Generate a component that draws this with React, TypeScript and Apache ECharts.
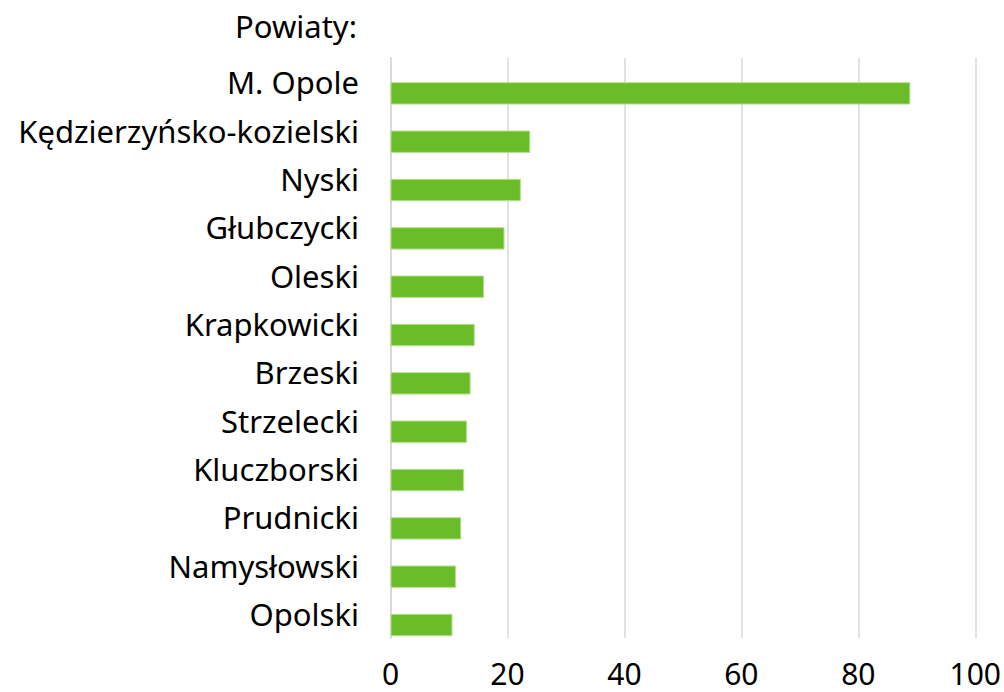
import React, { useEffect, useRef } from "react";
import * as echarts from "echarts";

const categories = [
  "M. Opole",
  "Kędzierzyńsko-kozielski",
  "Nyski",
  "Głubczycki",
  "Oleski",
  "Krapkowicki",
  "Brzeski",
  "Strzelecki",
  "Kluczborski",
  "Prudnicki",
  "Namysłowski",
  "Opolski",
];
const values = [88.9, 23.9, 22.3, 19.5, 16.0, 14.4, 13.7, 13.1, 12.6, 12.1, 11.2, 10.6];
const axisTitle = "Powiaty:";

export default function App() {
  const ref = useRef<HTMLDivElement>(null);
  useEffect(() => {
    const chart = echarts.init(ref.current!, null, { renderer: "svg" });
    const font = "'Noto Sans', sans-serif";
    chart.setOption({
      animation: false,
      grid: { left: 390.5, right: 27, top: 58, bottom: 54, containLabel: false },
      graphic: [
        {
          type: "text",
          x: 357,
          y: 26,
          style: {
            text: axisTitle,
            font: `31px ${font}`,
            fill: "#000",
            textAlign: "right",
            textVerticalAlign: "middle",
          },
        },
      ],
      xAxis: {
        type: "value",
        min: 0,
        max: 100,
        interval: 20,
        axisLine: { show: false },
        axisTick: { show: false },
        splitLine: { show: true, lineStyle: { color: "#d9d9d9", width: 1.5 } },
        axisLabel: { color: "#000", fontSize: 30, fontFamily: font, margin: 20, lineHeight: 30 },
      },
      yAxis: {
        type: "category",
        data: categories,
        inverse: true,
        axisLine: { show: true, lineStyle: { color: "#d9d9d9", width: 2 } },
        axisTick: { show: false },
        axisLabel: { color: "#000", fontSize: 31, fontFamily: font, margin: 31.5 },
      },
      series: [
        {
          type: "bar",
          name: "spacer",
          data: [],
          barWidth: 22.4,
          barGap: "0%",
          silent: true,
        },
        {
          type: "bar",
          name: "Powiaty",
          data: values,
          barWidth: 22.4,
          barGap: "0%",
          itemStyle: { color: "#6abd28", borderColor: "#b5e08f", borderWidth: 1 },
        },
      ],
    });
    return () => chart.dispose();
  }, []);
  return (
    <div
      ref={ref}
      style={{ position: "absolute", left: 0, top: 0, width: 1004, height: 692, background: "#fff" }}
    />
  );
}
